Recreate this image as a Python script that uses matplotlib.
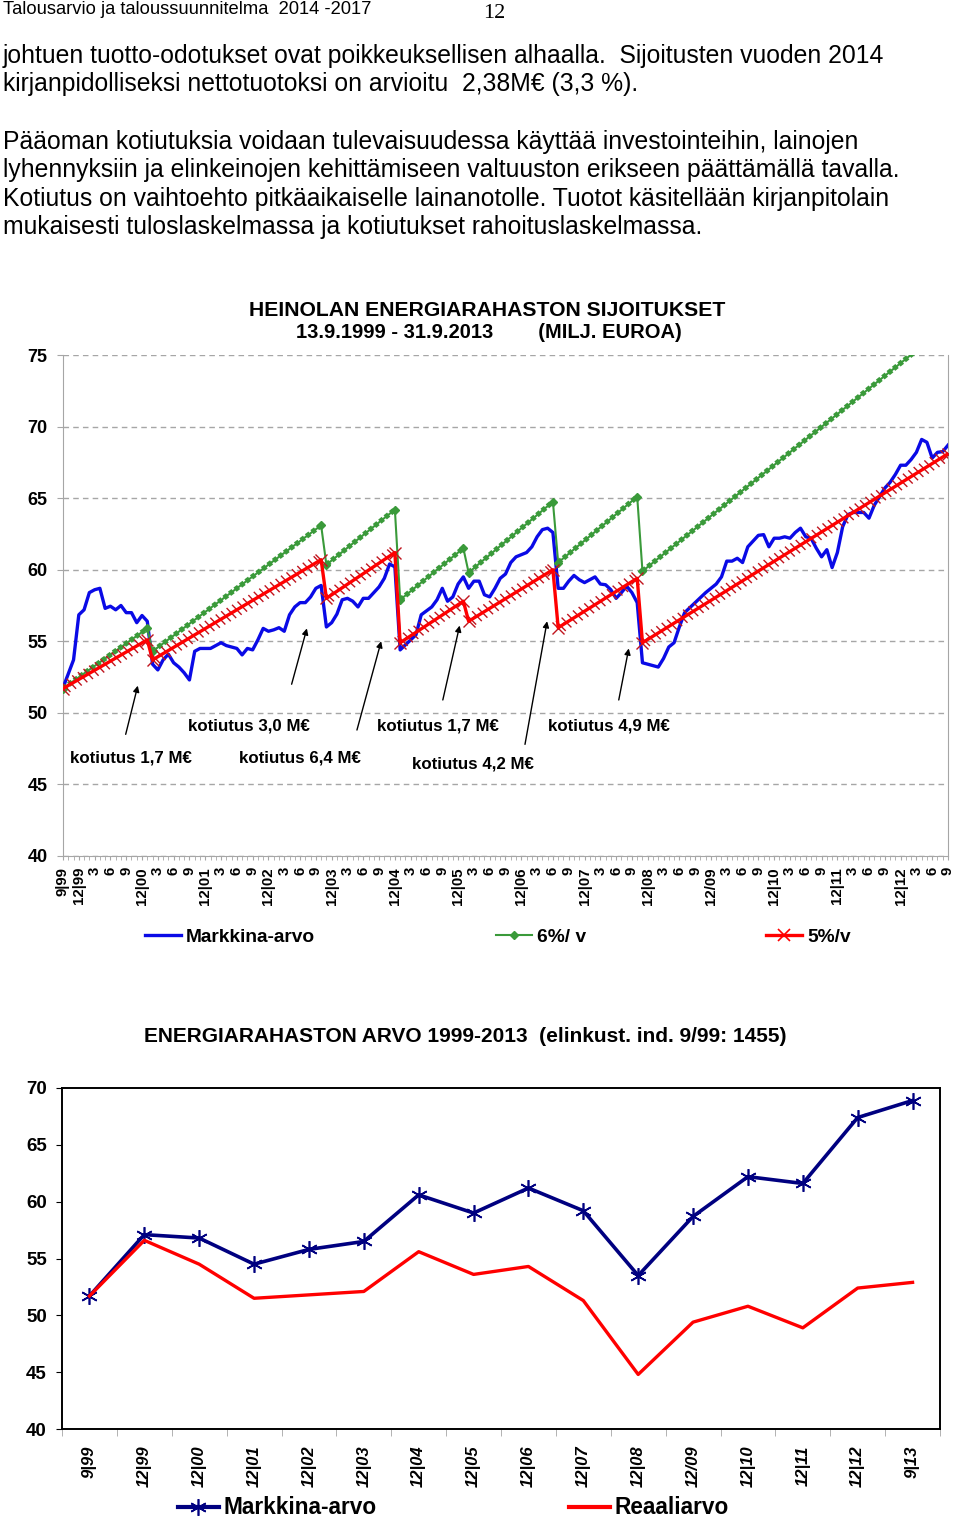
import matplotlib
matplotlib.use('Agg')
import matplotlib.pyplot as plt
from matplotlib.lines import Line2D
from matplotlib.patheffects import TickedStroke

plt.rcParams['font.family'] = ['Liberation Sans', 'DejaVu Sans']

# ---------------- chart 1 data (month index: 0 = 9/99 ... 168 = 9/13)
years = ['00', '01', '02', '03', '04', '05', '06', '07', '08', '09', '10', '11', '12']
quarter_labels = ['9|99', '12|99']
for yy in years:
    quarter_labels += ['3', '6', '9', ('12/' if yy == '09' else '12|') + yy]
quarter_labels += ['3', '6', '9']

# Markkina-arvo
blue_month = [0, 2, 3, 4, 5, 6, 7, 8, 9, 10, 11, 12, 13, 14, 15, 16, 17, 18, 19, 20,
              21, 22, 23, 24, 25, 26, 28, 30, 31, 33, 34, 35, 36, 37, 38, 39, 40, 41, 42, 43,
              44, 45, 46, 47, 48, 49, 50, 51, 52, 53, 54, 55, 56, 57, 58, 59, 60, 61, 62, 63,
              64, 65, 66, 67, 68, 70, 71, 72, 73, 74, 75, 76, 77, 78, 79, 80, 81, 82, 83, 84,
              85, 86, 88, 89, 90, 91, 92, 93, 94, 95, 96, 97, 98, 99, 101, 102, 103, 104, 105, 106,
              107, 108, 109, 110, 111, 113, 114, 115, 116, 117, 118, 120, 121, 122, 123, 124, 125, 126, 127, 128,
              129, 130, 132, 133, 134, 135, 136, 137, 138, 139, 140, 141, 142, 143, 144, 145, 146, 147, 148, 149,
              150, 151, 152, 153, 154, 155, 156, 157, 158, 159, 160, 161, 162, 163, 164, 165, 166, 167, 168]
blue_value = [51.75, 53.7, 56.85, 57.2, 58.4, 58.6, 58.7, 57.3, 57.45, 57.2, 57.5, 57.0, 57.0, 56.3, 56.8, 56.4, 53.4, 53.0, 53.7, 54.1,
              53.5, 53.2, 52.8, 52.3, 54.3, 54.5, 54.5, 54.9, 54.7, 54.5, 54.05, 54.5, 54.4, 55.1, 55.9, 55.7, 55.8, 55.95, 55.7, 56.85,
              57.4, 57.7, 57.7, 58.1, 58.7, 58.9, 56.0, 56.3, 56.9, 57.9, 58.0, 57.8, 57.4, 58.0, 58.0, 58.4, 58.8, 59.4, 60.4, 60.2,
              54.4, 54.75, 55.1, 55.45, 56.85, 57.4, 57.9, 58.7, 57.8, 58.1, 59.0, 59.5, 58.7, 59.2, 59.2, 58.25, 58.1, 58.7, 59.4, 59.7,
              60.5, 60.9, 61.2, 61.6, 62.3, 62.8, 62.9, 62.6, 58.7, 58.7, 59.2, 59.6, 59.3, 59.1, 59.5, 59.0, 58.95, 58.6, 58.0, 58.4,
              58.85, 58.4, 57.7, 53.5, 53.4, 53.2, 53.8, 54.6, 54.9, 56.0, 57.0, 57.7, 58.05, 58.4, 58.7, 59.0, 59.5, 60.6, 60.6, 60.8,
              60.5, 61.6, 62.4, 62.45, 61.6, 62.2, 62.2, 62.3, 62.2, 62.6, 62.9, 62.3, 62.2, 61.5, 60.9, 61.4, 60.15, 61.2, 63.0, 63.85,
              64.0, 64.0, 64.0, 63.6, 64.5, 65.1, 65.7, 66.1, 66.65, 67.3, 67.3, 67.7, 68.2, 69.1, 68.9, 67.8, 68.2, 68.25, 68.7]

# 5 %/v and 6 %/v lines: start, peak before each kotiutus, value after it, end
step_month = [0, 16, 17, 49, 50, 63, 64, 76, 77, 93, 94, 109, 110, 168]
red_value = [51.7, 55.1, 53.7, 60.7, 58.0, 61.2, 54.9, 57.8, 56.4, 60.0, 55.95, 59.4, 54.9, 68.1]
green_value = [51.7, 55.9, 54.3, 63.1, 60.35, 64.2, 57.9, 61.5, 59.8, 64.75, 60.5, 65.1, 59.9, 77.1]

kotiutus_texts = ['kotiutus 1,7 M€', 'kotiutus 3,0 M€', 'kotiutus 6,4 M€',
                  'kotiutus 1,7 M€', 'kotiutus 4,2 M€', 'kotiutus 4,9 M€']

# ---------------- chart 2 data
labels2 = ['9|99', '12|99', '12|00', '12|01', '12|02', '12|03', '12|04', '12|05',
           '12|06', '12|07', '12|08', '12/09', '12|10', '12|11', '12|12', '9|13']
market2 = [51.7, 57.1, 56.8, 54.5, 55.8, 56.5, 60.6, 59.0, 61.2, 59.2, 53.5, 58.7, 62.2, 61.6, 67.4, 68.9]
real2 = [51.7, 56.6, 54.5, 51.5, 51.8, 52.1, 55.6, 53.6, 54.3, 51.3, 44.8, 49.4, 50.8, 48.9, 52.4, 52.9]

body_lines = [
    'johtuen tuotto-odotukset ovat poikkeuksellisen alhaalla.  Sijoitusten vuoden 2014',
    'kirjanpidolliseksi nettotuotoksi on arvioitu  2,38M€ (3,3 %).',
    'Pääoman kotiutuksia voidaan tulevaisuudessa käyttää investointeihin, lainojen',
    'lyhennyksiin ja elinkeinojen kehittämiseen valtuuston erikseen päättämällä tavalla.',
    'Kotiutus on vaihtoehto pitkäaikaiselle lainanotolle. Tuotot käsitellään kirjanpitolain',
    'mukaisesti tuloslaskelmassa ja kotiutukset rahoituslaskelmassa.',
]

W, H = 960, 1519


def fx(x):
    return x / W


def fy(y):
    return 1 - y / H


fig = plt.figure(figsize=(9.6, 15.19), dpi=100)

# page header and text
fig.text(fx(3), fy(9), 'Talousarvio ja taloussuunnitelma  2014 -2017', fontsize=13.2, va='center')
fig.text(fx(494), fy(14), '12', family=['Liberation Serif', 'DejaVu Serif'], fontsize=16,
         ha='center', va='center')
for y, line in zip([63, 91, 149, 177, 206, 234], body_lines):
    fig.text(fx(3), fy(y), line, fontsize=17.8, va='baseline')

# ---------------- chart 1
grey = '#A6A6A6'
blue = '#0A0AE6'
green = '#3A9A3A'
red = '#FF0000'
darkred = '#C0141E'

fig.text(fx(487), fy(310), 'HEINOLAN ENERGIARAHASTON SIJOITUKSET', fontsize=15.2,
         fontweight='bold', ha='center', va='center')
fig.text(fx(489), fy(333), '13.9.1999 - 31.9.2013        (MILJ. EUROA)', fontsize=14.5,
         fontweight='bold', ha='center', va='center')

ax1 = fig.add_axes([fx(63), fy(856), 885 / W, 501 / H])
ax1.set_xlim(0, 168)
ax1.set_ylim(40, 75)
ax1.set_axisbelow(True)
ax1.yaxis.grid(True, color=grey, linestyle=(0, (4, 3)), lw=1)

ax1.plot(blue_month, blue_value, color=blue, lw=2.4, zorder=3)

# 6 %/v
ax1.plot(step_month, green_value, color=green, lw=1.5, zorder=4)
ax1.plot(step_month, green_value, 'D', color=green, ms=4, zorder=4)
for i in range(0, len(step_month), 2):
    ax1.plot(step_month[i:i + 2], green_value[i:i + 2], color=green, lw=3.8,
             linestyle=(0, (0.85, 0.45)), zorder=4)

# 5 %/v
ax1.plot(step_month, red_value, color=red, lw=2.4, zorder=6)
ax1.plot(step_month, red_value, 'x', color=darkred, ms=9, mew=1.0, zorder=5)
for i in range(0, len(step_month), 2):
    ax1.plot(step_month[i:i + 2], red_value[i:i + 2], color=darkred, lw=1.0, zorder=5,
             path_effects=[TickedStroke(spacing=4.5, angle=103, length=1.0),
                           TickedStroke(spacing=4.5, angle=-77, length=1.0)])

# kotiutus arrows and texts
arrows = [((11.9, 48.5), (14.2, 51.9)), ((43.4, 52.0), (46.3, 55.9)),
          ((55.8, 48.8), (60.4, 55.0)), ((72.1, 50.9), (75.3, 56.1)),
          ((87.7, 47.8), (91.9, 56.4)), ((105.5, 50.9), (107.4, 54.5))]
for tail, head in arrows:
    ax1.annotate('', xy=head, xytext=tail,
                 arrowprops=dict(arrowstyle='-|>', color='black', lw=1, mutation_scale=9,
                                 shrinkA=0, shrinkB=0))
text_pos = [(1.4, 46.85), (23.8, 49.1), (33.5, 46.85), (59.7, 49.1), (66.3, 46.4), (92.1, 49.1)]
for (x, y), t in zip(text_pos, kotiutus_texts):
    ax1.text(x, y, t, fontsize=12.2, fontweight='bold', va='center')

for side in ['left', 'right', 'bottom']:
    ax1.spines[side].set_color(grey)
ax1.spines['top'].set_visible(False)
ax1.set_yticks(range(40, 76, 5))
ax1.set_xticks(range(0, 169, 3))
ax1.set_xticks(range(0, 169), minor=True)
ax1.set_xticklabels(quarter_labels, rotation=90, fontsize=10.8, fontweight='bold')
for lab in ax1.get_yticklabels():
    lab.set_fontweight('bold')
    lab.set_fontsize(13)
ax1.tick_params(axis='y', length=4, color=grey, pad=7)
ax1.tick_params(axis='x', which='both', length=3, color=grey, pad=5)

h1 = [Line2D([], [], color=blue, lw=2.4),
      Line2D([], [], color=green, lw=1.5, marker='D', ms=4),
      Line2D([], [], color=red, lw=2.4, marker='x', ms=9, mew=1.2)]
fig.legend(h1, ['Markkina-arvo', '6%/ v', '5%/v'], loc='center left',
           bbox_to_anchor=(fx(145), fy(937)), ncol=3, frameon=False,
           prop={'weight': 'bold', 'size': 13.8}, handlelength=1.9, handletextpad=0.25,
           columnspacing=9.4, borderpad=0, borderaxespad=0)

# ---------------- chart 2
fig.text(fx(465), fy(1036), 'ENERGIARAHASTON ARVO 1999-2013  (elinkust. ind. 9/99: 1455)',
         fontsize=15, fontweight='bold', ha='center', va='center')

ax2 = fig.add_axes([fx(62), fy(1429), 878 / W, 341 / H])
x2 = list(range(len(labels2)))
ax2.set_xlim(-0.5, len(labels2) - 0.5)
ax2.set_ylim(40, 70)
ax2.plot(x2, market2, color='#000080', lw=2.6, marker=(6, 2, 0), ms=12, mew=1.2)
ax2.plot(x2, real2, color=red, lw=2.4)
for side in ax2.spines:
    ax2.spines[side].set_color('black')
    ax2.spines[side].set_linewidth(1.4)
ax2.set_yticks(range(40, 71, 5))
ax2.set_xticks(x2)
ax2.set_xticks([i - 0.5 for i in range(len(labels2) + 1)], minor=True)
ax2.set_xticklabels(labels2, rotation=90, fontsize=12, fontweight='bold', fontstyle='italic')
for lab in ax2.get_yticklabels():
    lab.set_fontweight('bold')
    lab.set_fontsize(13.5)
ax2.tick_params(axis='y', length=4, pad=7)
ax2.tick_params(axis='x', which='major', length=0, pad=12)
ax2.tick_params(axis='x', which='minor', length=5, color=grey)

h2 = [Line2D([], [], color='#000080', lw=3, marker=(6, 2, 0), ms=12, mew=1.2),
      Line2D([], [], color=red, lw=3)]
fig.legend(h2, ['Markkina-arvo', 'Reaaliarvo'], loc='center left',
           bbox_to_anchor=(fx(178), fy(1508)), ncol=2, frameon=False,
           prop={'weight': 'bold', 'size': 16.3}, handlelength=1.8, handletextpad=0.2,
           columnspacing=8.5, borderpad=0, borderaxespad=0)

fig.savefig('out.png', dpi=100)
